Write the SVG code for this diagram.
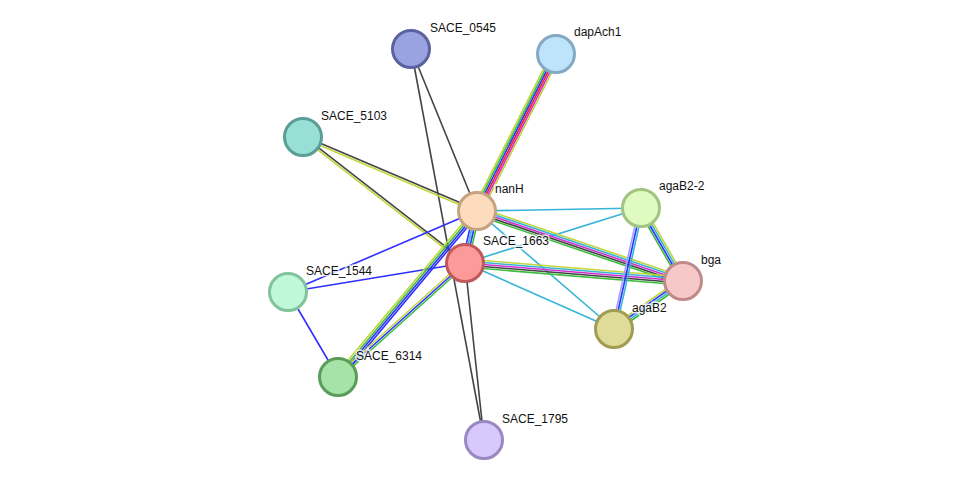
<svg xmlns="http://www.w3.org/2000/svg" width="975" height="486" viewBox="0 0 975 486">
<style>
line{stroke-width:1.6;fill:none}
.k{stroke:#444}.y{stroke:#c2d63a}.g{stroke:#3cbd3c}.b{stroke:#2f2fff}.r{stroke:#f02020}.c{stroke:#36b4d8}.m{stroke:#d030d0}.lb{stroke:#a0a0ff}
circle{stroke-width:3}
text{font-family:"Liberation Sans",Arial,sans-serif;font-size:12px;fill:#111;stroke:#fff;stroke-width:3;paint-order:stroke;stroke-opacity:0.8}
</style>
<rect width="975" height="486" fill="#fff"/>
<g id="edges">
<line class="y" x1="477" y1="211" x2="556" y2="54" transform="translate(-4 -2)"/>
<line class="g" x1="477" y1="211" x2="556" y2="54" transform="translate(-2.4 -1.2)"/>
<line class="b" x1="477" y1="211" x2="556" y2="54" transform="translate(-0.8 -0.4)"/>
<line class="r" x1="477" y1="211" x2="556" y2="54" transform="translate(0.8 0.4)"/>
<line class="m" x1="477" y1="211" x2="556" y2="54" transform="translate(2.4 1.2)"/>
<line class="y" x1="477" y1="211" x2="556" y2="54" transform="translate(4 2)"/>
<line class="k" x1="477" y1="211" x2="411" y2="49"/>
<line class="k" x1="411" y1="49" x2="484" y2="440"/>
<line class="k" x1="465" y1="263" x2="484" y2="440"/>
<line class="k" x1="303" y1="137" x2="477" y2="211" transform="translate(0.4 -0.9)"/>
<line class="y" x1="303" y1="137" x2="477" y2="211" transform="translate(-0.4 0.9)"/>
<line class="k" x1="303" y1="137" x2="465" y2="263" transform="translate(0.6 -0.8)"/>
<line class="y" x1="303" y1="137" x2="465" y2="263" transform="translate(-0.6 0.8)"/>
<line class="c" x1="477" y1="211" x2="641" y2="208"/>
<line class="c" x1="465" y1="263" x2="641" y2="208"/>
<line class="c" x1="477" y1="211" x2="614" y2="329"/>
<line class="c" x1="465" y1="263" x2="614" y2="329"/>
<line class="y" x1="477" y1="211" x2="683" y2="281" transform="translate(1.3 -3.8)"/>
<line class="c" x1="477" y1="211" x2="683" y2="281" transform="translate(0.6 -1.9)"/>
<line class="m" x1="477" y1="211" x2="683" y2="281"/>
<line class="k" x1="477" y1="211" x2="683" y2="281" transform="translate(-0.6 1.9)"/>
<line class="g" x1="477" y1="211" x2="683" y2="281" transform="translate(-1.3 3.8)"/>
<line class="y" x1="465" y1="263" x2="683" y2="281" transform="translate(0.3 -4)"/>
<line class="c" x1="465" y1="263" x2="683" y2="281" transform="translate(0.2 -2)"/>
<line class="m" x1="465" y1="263" x2="683" y2="281"/>
<line class="k" x1="465" y1="263" x2="683" y2="281" transform="translate(-0.2 2)"/>
<line class="g" x1="465" y1="263" x2="683" y2="281" transform="translate(-0.3 4)"/>
<line class="g" x1="641" y1="208" x2="683" y2="281" transform="translate(-2.6 1.5)"/>
<line class="b" x1="641" y1="208" x2="683" y2="281" transform="translate(-0.9 0.5)"/>
<line class="c" x1="641" y1="208" x2="683" y2="281" transform="translate(0.9 -0.5)"/>
<line class="y" x1="641" y1="208" x2="683" y2="281" transform="translate(2.6 -1.5)"/>
<line class="lb" x1="641" y1="208" x2="614" y2="329" transform="translate(-2 -0.4)"/>
<line class="b" x1="641" y1="208" x2="614" y2="329"/>
<line class="c" x1="641" y1="208" x2="614" y2="329" transform="translate(2 0.4)"/>
<line class="y" x1="614" y1="329" x2="683" y2="281" transform="translate(-1.7 -2.5)"/>
<line class="b" x1="614" y1="329" x2="683" y2="281" transform="translate(-0.6 -0.8)"/>
<line class="c" x1="614" y1="329" x2="683" y2="281" transform="translate(0.6 0.8)"/>
<line class="g" x1="614" y1="329" x2="683" y2="281" transform="translate(1.7 2.5)"/>
<line class="b" x1="477" y1="211" x2="465" y2="263" transform="translate(-2.9 -0.7)"/>
<line class="c" x1="477" y1="211" x2="465" y2="263" transform="translate(-1 -0.2)"/>
<line class="b" x1="477" y1="211" x2="465" y2="263" transform="translate(1 0.2)"/>
<line class="g" x1="477" y1="211" x2="465" y2="263" transform="translate(2.9 0.7)"/>
<line class="b" x1="288" y1="292" x2="477" y2="211"/>
<line class="b" x1="288" y1="292" x2="465" y2="263"/>
<line class="b" x1="288" y1="292" x2="338" y2="377"/>
<line class="y" x1="338" y1="377" x2="477" y2="211" transform="translate(-2.3 -1.9)"/>
<line class="g" x1="338" y1="377" x2="477" y2="211" transform="translate(-0.8 -0.6)"/>
<line class="b" x1="338" y1="377" x2="477" y2="211" transform="translate(0.8 0.6)"/>
<line class="b" x1="338" y1="377" x2="477" y2="211" transform="translate(2.3 1.9)"/>
<line class="y" x1="338" y1="377" x2="465" y2="263" transform="translate(-1.3 -1.5)"/>
<line class="b" x1="338" y1="377" x2="465" y2="263"/>
<line class="g" x1="338" y1="377" x2="465" y2="263" transform="translate(1.3 1.5)"/>
</g>
<g id="SACE_0545"><circle cx="411" cy="49" r="18.5" fill="#9aa3df" stroke="#5a62a0"/><text x="430" y="32">SACE_0545</text></g>
<g id="dapAch1"><circle cx="556" cy="54" r="18.5" fill="#bde4fb" stroke="#84a9c4"/><text x="574" y="36">dapAch1</text></g>
<g id="SACE_5103"><circle cx="303" cy="137" r="18.5" fill="#98e0d6" stroke="#5a9e96"/><text x="321" y="120">SACE_5103</text></g>
<g id="nanH"><circle cx="477" cy="211" r="18.5" fill="#fddcbe" stroke="#c4a282"/><text x="495" y="193">nanH</text></g>
<g id="agaB2-2"><circle cx="641" cy="208" r="18.5" fill="#e0fbc0" stroke="#a2c480"/><text x="659" y="190">agaB2-2</text></g>
<g id="SACE_1663"><circle cx="465" cy="263" r="18.5" fill="#fc9a9a" stroke="#c05a5a"/><text x="483" y="245">SACE_1663</text></g>
<g id="bga"><circle cx="683" cy="281" r="18.5" fill="#f7c8c8" stroke="#c08a8a"/><text x="701" y="264">bga</text></g>
<g id="SACE_1544"><circle cx="288" cy="292" r="18.5" fill="#bff8d8" stroke="#80c49c"/><text x="306" y="275">SACE_1544</text></g>
<g id="agaB2"><circle cx="614" cy="329" r="18.5" fill="#dedc98" stroke="#a09c52"/><text x="632" y="312">agaB2</text></g>
<g id="SACE_6314"><circle cx="338" cy="377" r="18.5" fill="#a6e3a6" stroke="#5a9c5a"/><text x="356" y="360">SACE_6314</text></g>
<g id="SACE_1795"><circle cx="484" cy="440" r="18.5" fill="#d9c8fb" stroke="#9a88c0"/><text x="502" y="423">SACE_1795</text></g>
</svg>
